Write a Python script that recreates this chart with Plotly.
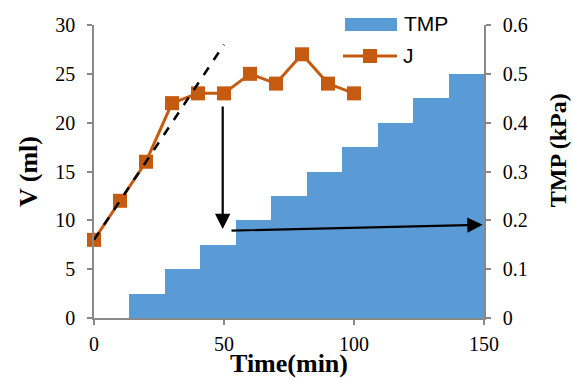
import plotly.graph_objects as go

# Data
time_j = [0, 10, 20, 30, 40, 50, 60, 70, 80, 90, 100]
j_values = [8, 12, 16, 22, 23, 23, 25, 24, 27, 24, 23]
tmp_values = [0, 0.05, 0.10, 0.15, 0.20, 0.25, 0.30, 0.35, 0.40, 0.45, 0.50]
x_ticks = [0, 50, 100, 150]
v_ticks = [0, 5, 10, 15, 20, 25, 30]
tmp_ticks = [0, 0.1, 0.2, 0.3, 0.4, 0.5, 0.6]
tmp_tick_text = ["0", "0.1", "0.2", "0.3", "0.4", "0.5", "0.6"]
fit_x = [0, 50]
fit_y = [8, 28]

BLUE = "#5B9BD5"
ORANGE = "#C55A11"
AXIS = "#898989"
SERIF = "Liberation Serif"
SANS = "Liberation Sans"

x_max = 150
bar_w = x_max / len(tmp_values)
bar_x = [(i + 0.5) * bar_w for i in range(len(tmp_values))]

fig = go.Figure()
fig.add_trace(go.Bar(x=bar_x, y=tmp_values, width=bar_w, yaxis="y2",
                     marker=dict(color=BLUE, line=dict(width=0)), name="TMP",
                     showlegend=False))
fig.add_trace(go.Scatter(x=time_j, y=j_values, mode="lines+markers", name="J",
                         line=dict(color=ORANGE, width=3),
                         marker=dict(symbol="square", size=14, color=ORANGE),
                         showlegend=False, cliponaxis=False))

fig.add_shape(type="line", xref="x", yref="y", x0=fit_x[0], y0=fit_y[0], x1=fit_x[1], y1=fit_y[1],
              line=dict(color="black", width=2.5, dash="dash"), layer="above")

fig.add_annotation(x=49.5, y=9.1, ax=49.5, ay=21.8, xref="x", yref="y", axref="x", ayref="y",
                   showarrow=True, arrowhead=2, arrowsize=1.4, arrowwidth=2.2, arrowcolor="black",
                   standoff=0, startstandoff=0, text="")
fig.add_annotation(x=149.5, y=9.55, ax=52.3, ay=8.95, xref="x", yref="y", axref="x", ayref="y",
                   showarrow=True, arrowhead=2, arrowsize=1.4, arrowwidth=2.2, arrowcolor="black",
                   standoff=0, startstandoff=0, text="")

fig.add_shape(type="rect", xref="paper", yref="paper", x0=0.6436, x1=0.7769, y0=0.9795, y1=1.0239,
              fillcolor=BLUE, line=dict(width=0))
fig.add_annotation(xref="paper", yref="paper", x=0.789, y=1.0068, xanchor="left", yanchor="middle",
                   text="TMP", showarrow=False, font=dict(family=SANS, size=21, color="black"))
fig.add_shape(type="line", xref="paper", yref="paper", x0=0.6385, x1=0.7769, y0=0.8942, y1=0.8942,
              line=dict(color=ORANGE, width=3))
fig.add_shape(type="rect", xref="paper", yref="paper", x0=0.6897, x1=0.7256, y0=0.8703, y1=0.9181,
              fillcolor=ORANGE, line=dict(width=0))
fig.add_annotation(xref="paper", yref="paper", x=0.787, y=0.8942, xanchor="left", yanchor="middle",
                   text="J", showarrow=False, font=dict(family=SANS, size=21, color="black"))

fig.add_annotation(xref="paper", yref="paper", x=1.19, y=0.573, xanchor="center", yanchor="middle",
                   text="<b>TMP (kPa)</b>", textangle=-90, showarrow=False,
                   font=dict(family=SERIF, size=24, color="black"))

axis_common = dict(showgrid=False, zeroline=False, showline=True, linecolor=AXIS, linewidth=1.5,
                   ticks="outside", ticklen=5, tickcolor=AXIS, tickwidth=1.5, automargin=False)

fig.update_layout(
    width=573, height=378,
    margin=dict(l=94, r=89, t=25, b=60, autoexpand=False),
    paper_bgcolor="white", plot_bgcolor="white",
    bargap=0,
    showlegend=False,
    font=dict(family=SERIF, size=20, color="black"),
    xaxis=dict(range=[0, x_max], tickvals=x_ticks, **axis_common, ticklabelstandoff=2,
               tickfont=dict(family=SERIF, size=20, color="black"),
               title=dict(text="<b>Time(min)</b>", font=dict(family=SERIF, size=26, color="black"),
                          standoff=0)),
    yaxis=dict(range=[0, 30], tickvals=v_ticks, **axis_common, ticklabelstandoff=8,
               tickfont=dict(family=SERIF, size=20, color="black"),
               title=dict(text="<b>V (ml)</b>", font=dict(family=SERIF, size=26, color="black"),
                          standoff=10)),
    yaxis2=dict(range=[0, 0.6], tickvals=tmp_ticks, ticktext=tmp_tick_text, overlaying="y",
                side="right", **axis_common, ticklabelstandoff=8,
                tickfont=dict(family=SERIF, size=20, color="black")),
)

fig.write_html("out.html")
